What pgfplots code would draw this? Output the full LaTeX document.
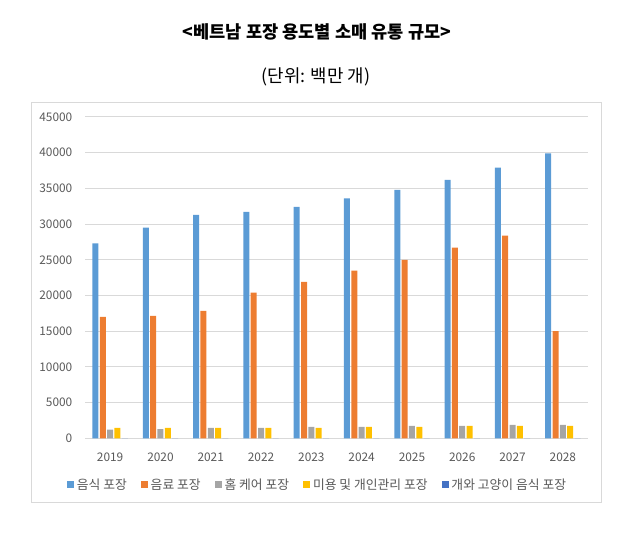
\documentclass[border=0pt]{standalone}
\usepackage{pgfplots}
\pgfplotsset{compat=1.18}
\usepackage{fontspec}
\setmainfont{Noto Sans CJK KR}

\definecolor{cfood}{HTML}{5B9BD5}
\definecolor{cdrink}{HTML}{ED7D31}
\definecolor{chome}{HTML}{A5A5A5}
\definecolor{cbeauty}{HTML}{FFC000}
\definecolor{cpet}{HTML}{4472C4}
\definecolor{gridc}{HTML}{D9D9D9}
\definecolor{labc}{HTML}{595959}

\begin{document}
\begin{tikzpicture}
% page size 617x532 px at 0.75pt per px
\path (0,0) rectangle (462.75pt,399pt);
\draw[gridc, line width=0.75pt] (23.8pt,322pt) rectangle (450.75pt,22pt);
\node[font=\fontsize{13.2}{15}\selectfont\bfseries] at (237.75pt,375pt) {<베트남 포장 용도별 소매 유통 규모>};
\node[font=\fontsize{13.4}{15}\selectfont] at (237pt,341.5pt) {(단위: 백만 개)};

\begin{axis}[
    at={(63.75pt,70.275pt)}, anchor=south west,
    scale only axis,
    width=377.25pt, height=240.98pt,
    ybar=1pt, bar width=4.5pt,
    xmin=-0.5, xmax=9.5,
    ymin=0, ymax=45000,
    ytick distance=5000,
    xtick=data,
    xticklabels={2019,2020,2021,2022,2023,2024,2025,2026,2027,2028},
    ymajorgrids, grid style={gridc, line width=0.75pt},
    axis line style={draw=none},
    tick style={draw=none},
    scaled y ticks=false,
    /pgf/number format/assume math mode=true,
    yticklabel={\pgfmathprintnumber[fixed,1000 sep={}]{\tick}},
    ticklabel style={font=\fontsize{8.9}{10}\selectfont, text=labc},
    yticklabel style={xshift=-6pt},
    xticklabel style={yshift=-3pt},
    legend columns=-1,
    legend style={at={(0.463,-0.145)}, anchor=center, draw=none,
        font=\fontsize{9.6}{11}\selectfont, text=labc,
        /tikz/every even column/.append style={column sep=8.5pt},
        inner sep=0pt},
    legend image code/.code={\path[#1] (0pt,-2.7pt) rectangle (5.4pt,2.7pt);},
]
\addplot[fill=cfood, draw=none] coordinates {
(0,27300) (1,29500) (2,31300) (3,31700) (4,32400)
(5,33600) (6,34800) (7,36200) (8,37900) (9,39900)};
\addlegendentry{음식 포장}
\addplot[fill=cdrink, draw=none] coordinates {
(0,17000) (1,17150) (2,17850) (3,20400) (4,21900)
(5,23500) (6,25000) (7,26700) (8,28400) (9,15000)};
\addlegendentry{음료 포장}
\addplot[fill=chome, draw=none] coordinates {
(0,1200) (1,1300) (2,1450) (3,1450) (4,1590)
(5,1590) (6,1730) (7,1730) (8,1870) (9,1870)};
\addlegendentry{홈 케어 포장}
\addplot[fill=cbeauty, draw=none] coordinates {
(0,1450) (1,1450) (2,1450) (3,1450) (4,1450)
(5,1590) (6,1590) (7,1730) (8,1730) (9,1730)};
\addlegendentry{미용 및 개인관리 포장}
\addplot[fill=cpet, draw=none] coordinates {
(0,0) (1,0) (2,0) (3,0) (4,0)
(5,0) (6,0) (7,0) (8,0) (9,0)};
\addlegendentry{개와 고양이 음식 포장}
\end{axis}
\end{tikzpicture}
\end{document}
